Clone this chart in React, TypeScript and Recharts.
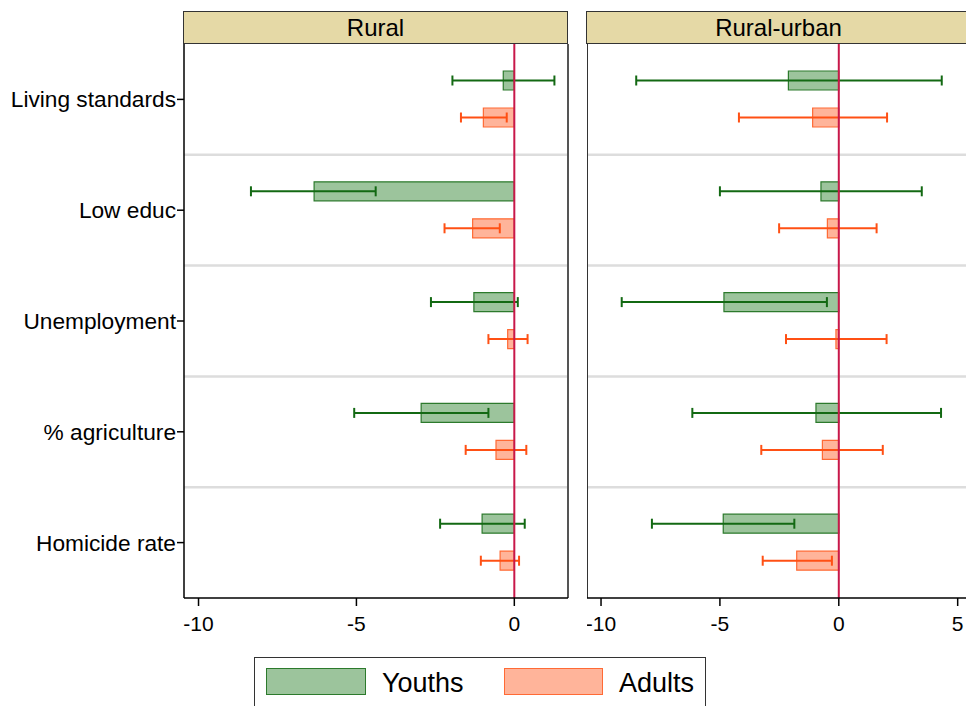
import React from "react";
import {
  Bar,
  BarChart,
  CartesianGrid,
  ErrorBar,
  ReferenceLine,
  XAxis,
  YAxis,
} from "recharts";

const FONT = "'Liberation Sans', Arial, Helvetica, sans-serif";

const categories = [
  "Living standards",
  "Low educ",
  "Unemployment",
  "% agriculture",
  "Homicide rate",
];

// Rural panel
const ruralYouth = [-0.35, -6.34, -1.28, -2.95, -1.02];
const ruralYouthLo = [-1.96, -8.34, -2.64, -5.07, -2.35];
const ruralYouthHi = [1.27, -4.39, 0.11, -0.82, 0.33];
const ruralAdult = [-0.98, -1.32, -0.21, -0.58, -0.45];
const ruralAdultLo = [-1.69, -2.21, -0.82, -1.54, -1.06];
const ruralAdultHi = [-0.24, -0.46, 0.42, 0.38, 0.15];

// Rural-urban panel
const ruYouth = [-2.12, -0.75, -4.83, -0.96, -4.86];
const ruYouthLo = [-8.52, -5.0, -9.13, -6.16, -7.86];
const ruYouthHi = [4.33, 3.49, -0.5, 4.3, -1.87];
const ruAdult = [-1.1, -0.48, -0.12, -0.69, -1.77];
const ruAdultLo = [-4.2, -2.51, -2.22, -3.26, -3.2];
const ruAdultHi = [2.03, 1.59, 2.01, 1.85, -0.29];

const ruralTicks = [-10, -5, 0];
const ruTicks = [-10, -5, 0, 5];

const GREEN_FILL = "#9cc49c";
const GREEN_LINE = "#2c7a2c";
const GREEN_ERR = "#136913";
const ORANGE_FILL = "#ffb49a";
const ORANGE_LINE = "#ff6a35";
const ORANGE_ERR = "#ff5014";

function buildRows(
  youth: number[],
  youthLo: number[],
  youthHi: number[],
  adult: number[],
  adultLo: number[],
  adultHi: number[]
) {
  return categories.map((name, i) => ({
    name,
    youth: youth[i],
    youthErr: [youth[i] - youthLo[i], youthHi[i] - youth[i]],
    adult: adult[i],
    adultErr: [adult[i] - adultLo[i], adultHi[i] - adult[i]],
  }));
}

const ruralRows = buildRows(
  ruralYouth,
  ruralYouthLo,
  ruralYouthHi,
  ruralAdult,
  ruralAdultLo,
  ruralAdultHi
);
const ruRows = buildRows(ruYouth, ruYouthLo, ruYouthHi, ruAdult, ruAdultLo, ruAdultHi);

function Panel({
  rows,
  domain,
  ticks,
  showY,
  left,
  width,
  title,
  headerLeft,
  headerWidth,
}: {
  rows: ReturnType<typeof buildRows>;
  domain: [number, number];
  ticks: number[];
  showY: boolean;
  left: number;
  width: number;
  title: string;
  headerLeft: number;
  headerWidth: number;
}) {
  return (
    <>
      <div
        style={{
          position: "absolute",
          left: headerLeft,
          top: 11,
          width: headerWidth,
          height: 31,
          background: "#e5d9a6",
          border: "1.5px solid #333",
          fontFamily: FONT,
          fontSize: 24,
          lineHeight: "31px",
          textAlign: "center",
          color: "#000",
        }}
      >
        {title}
      </div>
      <div style={{ position: "absolute", left, top: 44 }}>
        <BarChart
          width={width}
          height={600}
          data={rows}
          layout="vertical"
          margin={{ top: 0, right: showY ? 2 : 0, bottom: 0, left: 0 }}
          barGap={18}
        >
          <CartesianGrid
            vertical={false}
            stroke="#dddddd"
            strokeWidth={2.5}
            horizontalCoordinatesGenerator={({ offset }: any) =>
              [1, 2, 3, 4].map((i) => offset.top + (i * offset.height) / 5)
            }
          />
          <XAxis
            type="number"
            domain={domain}
            ticks={ticks}
            allowDataOverflow
            height={46}
            tickSize={8}
            tickMargin={10}
            tick={{ fill: "#000", fontSize: 21, fontFamily: FONT }}
            axisLine={{ stroke: "#000", strokeWidth: 1.5 }}
            tickLine={{ stroke: "#000", strokeWidth: 1.5 }}
          />
          <YAxis
            type="category"
            dataKey="name"
            hide={!showY}
            width={184}
            interval={0}
            tickSize={7}
            tickMargin={1}
            tick={{ fill: "#000", fontSize: 22.7, fontFamily: FONT }}
            axisLine={{ stroke: "#000", strokeWidth: 1.5 }}
            tickLine={{ stroke: "#000", strokeWidth: 1.5 }}
          />
          <Bar
            dataKey="youth"
            fill={GREEN_FILL}
            stroke={GREEN_LINE}
            strokeWidth={1.2}
            barSize={19}
            isAnimationActive={false}
          >
            <ErrorBar
              dataKey="youthErr"
              direction="x"
              width={5}
              stroke={GREEN_ERR}
              strokeWidth={2}
            />
          </Bar>
          <Bar
            dataKey="adult"
            fill={ORANGE_FILL}
            stroke={ORANGE_LINE}
            strokeWidth={1.2}
            barSize={19}
            isAnimationActive={false}
          >
            <ErrorBar
              dataKey="adultErr"
              direction="x"
              width={5}
              stroke={ORANGE_ERR}
              strokeWidth={2}
            />
          </Bar>
          <ReferenceLine x={0} stroke="#c8184a" strokeWidth={2} />
          {showY ? (
            <ReferenceLine x={domain[1]} stroke="#555" strokeWidth={2} />
          ) : (
            <ReferenceLine x={domain[0]} stroke="#333" strokeWidth={2} />
          )}
        </BarChart>
      </div>
    </>
  );
}

export default function App() {
  return (
    <div
      style={{
        position: "absolute",
        left: 0,
        top: 0,
        width: 966,
        height: 706,
        overflow: "hidden",
        background: "#fff",
        fontFamily: FONT,
      }}
    >
      <Panel
        rows={ruralRows}
        domain={[-10.46, 1.7]}
        ticks={ruralTicks}
        showY
        left={0}
        width={570}
        title="Rural"
        headerLeft={183}
        headerWidth={383}
      />
      <Panel
        rows={ruRows}
        domain={[-10.59, 5.35]}
        ticks={ruTicks}
        showY={false}
        left={587}
        width={379}
        title="Rural-urban"
        headerLeft={586}
        headerWidth={383}
      />
      <div
        style={{
          position: "absolute",
          left: 254,
          top: 657,
          width: 450,
          height: 60,
          border: "1.5px solid #333",
          fontFamily: FONT,
          fontSize: 27,
          color: "#000",
        }}
      >
        <div
          style={{
            position: "absolute",
            left: 11,
            top: 10,
            width: 98,
            height: 25,
            background: GREEN_FILL,
            border: `1.5px solid ${GREEN_LINE}`,
          }}
        />
        <div style={{ position: "absolute", left: 127, top: 10, lineHeight: "30px" }}>
          Youths
        </div>
        <div
          style={{
            position: "absolute",
            left: 249,
            top: 10,
            width: 97,
            height: 25,
            background: ORANGE_FILL,
            border: `1.5px solid ${ORANGE_LINE}`,
          }}
        />
        <div style={{ position: "absolute", left: 364, top: 10, lineHeight: "30px" }}>
          Adults
        </div>
      </div>
    </div>
  );
}
